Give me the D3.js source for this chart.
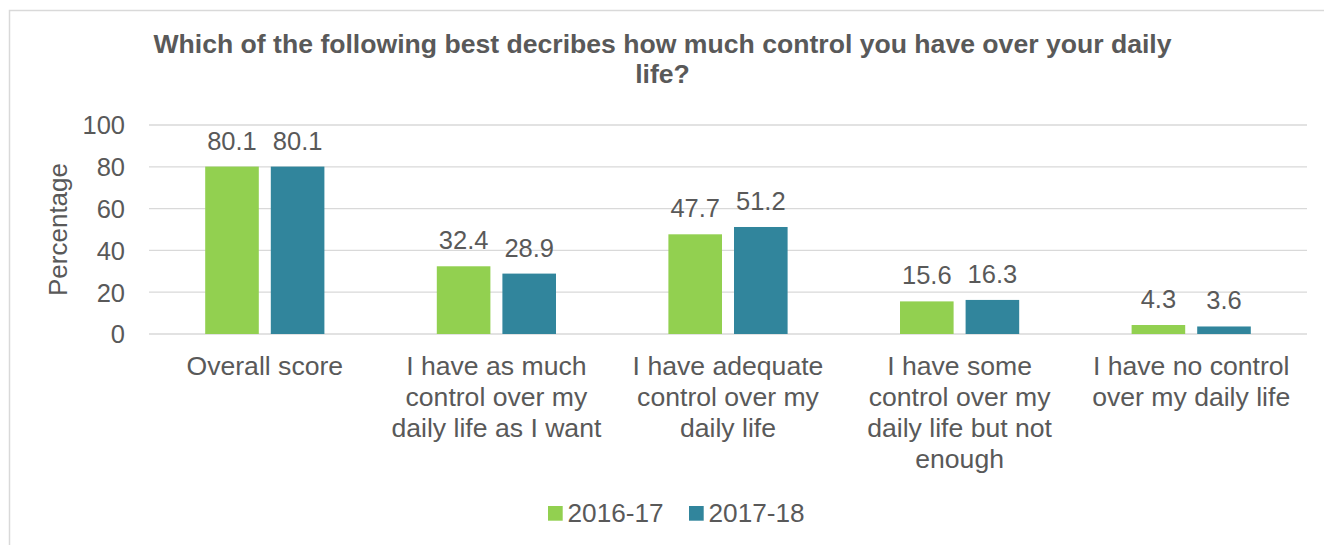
<!DOCTYPE html>
<html>
<head>
<meta charset="utf-8">
<script src="https://cdn.jsdelivr.net/npm/d3@7"></script>
<style>
  html, body { margin: 0; padding: 0; background: #fff; }
  svg { display: block; font-family: "Liberation Sans", Arial, sans-serif; }
</style>
</head>
<body>
<svg id="chart" width="1324" height="545"></svg>
<script>
// Survey results: control over daily life
const categories = [
  ["Overall score"],
  ["I have as much", "control over my", "daily life as I want"],
  ["I have adequate", "control over my", "daily life"],
  ["I have some", "control over my", "daily life but not", "enough"],
  ["I have no control", "over my daily life"]
];
const seriesNames = ["2016-17", "2017-18"];
const values2016 = [80.1, 32.4, 47.7, 15.6, 4.3];
const values2017 = [80.1, 28.9, 51.2, 16.3, 3.6];
const yTicks = [0, 20, 40, 60, 80, 100];
const colors = ["#92D050", "#31859C"];

const textColor = "#595959";
const numSize = 25.5;
const labelSize = 26.6;
const svg = d3.select("#chart");

// Outer chart frame
svg.append("rect")
  .attr("x", 9.5).attr("y", 10.5)
  .attr("width", 1330).attr("height", 560)
  .attr("fill", "none").attr("stroke", "#D9D9D9").attr("stroke-width", 1.5);

const plot = { left: 149, right: 1307, top: 125, bottom: 334 };

const x = d3.scaleBand()
  .domain(d3.range(categories.length))
  .range([plot.left, plot.right]);

const y = d3.scaleLinear().domain([0, 100]).range([plot.bottom, plot.top]);

const barW = 53.6, barGap = 12;

// Gridlines
svg.append("g")
  .selectAll("line").data(yTicks).join("line")
  .attr("x1", plot.left).attr("x2", plot.right)
  .attr("y1", d => y(d)).attr("y2", d => y(d))
  .attr("stroke", "#D9D9D9").attr("stroke-width", 1.3);

// Y axis labels
const yAxis = d3.axisLeft(y).tickValues(yTicks).tickSize(0).tickPadding(0);
const gy = svg.append("g").attr("transform", `translate(125,0)`).call(yAxis);
gy.select(".domain").remove();
gy.selectAll("text")
  .attr("font-size", numSize).attr("fill", textColor)
  .attr("font-family", "Liberation Sans, Arial, sans-serif")
  .attr("dy", "0.35em");

// Y axis title
svg.append("text")
  .attr("transform", `translate(66.5,${(plot.top + plot.bottom) / 2}) rotate(-90)`)
  .attr("text-anchor", "middle")
  .attr("font-size", 26).attr("fill", textColor)
  .text("Percentage");

// Bars with value labels
const series = [values2016, values2017];
const groups = svg.append("g");
series.forEach((vals, si) => {
  const cx = i => x(i) + x.bandwidth() / 2;
  const bx = i => cx(i) + (si === 0 ? -(barGap / 2 + barW) : barGap / 2);
  groups.append("g").selectAll("rect").data(vals).join("rect")
    .attr("x", (d, i) => bx(i))
    .attr("y", d => y(d))
    .attr("width", barW)
    .attr("height", d => y(0) - y(d))
    .attr("fill", colors[si]);
  groups.append("g").selectAll("text").data(vals).join("text")
    .attr("x", (d, i) => bx(i) + barW / 2)
    .attr("y", d => y(d) - 17)
    .attr("text-anchor", "middle")
    .attr("font-size", numSize).attr("fill", textColor)
    .text(d => d.toFixed(1));
});

// Category labels
const catG = svg.append("g");
categories.forEach((lines, i) => {
  const cx = x(i) + x.bandwidth() / 2;
  const t = catG.append("text")
    .attr("text-anchor", "middle")
    .attr("font-size", labelSize).attr("fill", textColor);
  lines.forEach((ln, k) => {
    t.append("tspan").attr("x", cx).attr("y", 375 + k * 31).text(ln);
  });
});

// Title
const title = svg.append("text")
  .attr("text-anchor", "middle")
  .attr("font-size", labelSize).attr("font-weight", "bold").attr("fill", textColor);
title.append("tspan").attr("x", 662.5).attr("y", 53)
  .text("Which of the following best decribes how much control you have over your daily");
title.append("tspan").attr("x", 662.5).attr("y", 83).text("life?");

// Legend
const legend = svg.append("g");
const legendX = [548, 689];
seriesNames.forEach((name, i) => {
  legend.append("rect")
    .attr("x", legendX[i]).attr("y", 506)
    .attr("width", 14.7).attr("height", 14.7)
    .attr("fill", colors[i]);
  legend.append("text")
    .attr("x", legendX[i] + 19.5).attr("y", 521.5)
    .attr("font-size", 26.2).attr("fill", textColor)
    .text(name);
});
</script>
</body>
</html>
